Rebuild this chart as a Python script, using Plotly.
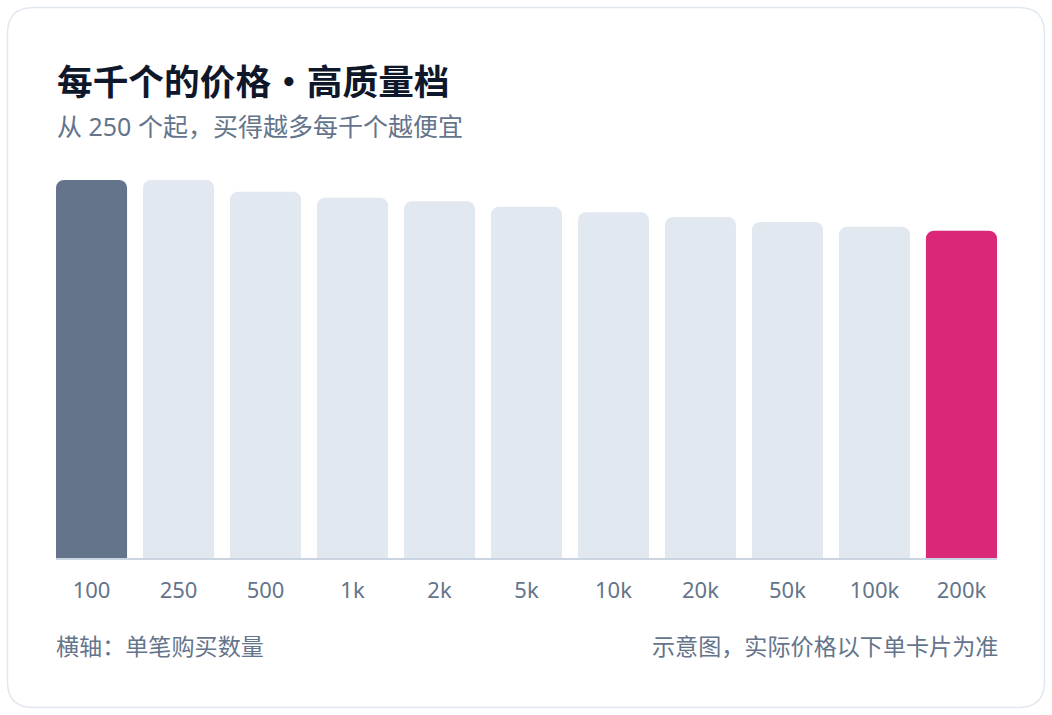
import plotly.graph_objects as go

# Data (relative price per thousand, 100 = price at qty 100)
quantities = ["100", "250", "500", "1k", "2k", "5k", "10k", "20k", "50k", "100k", "200k"]
rel_price = [100, 100, 96.9, 95.3, 94.4, 92.9, 91.5, 90.2, 88.9, 87.6, 86.6]
bar_colors = ["#64748b"] + ["#e2e8f0"] * 9 + ["#db2777"]

title_text = "每千个的价格・高质量档"
subtitle_text = "从 250 个起，买得越多每千个越便宜"
footer_left = "横轴：单笔购买数量"
footer_right = "示意图，实际价格以下单卡片为准"

W, H = 1052, 715
FONT = "Noto Sans, Noto Sans CJK SC, sans-serif"

def px_x(x):
    return x / W

def px_y(y):
    return 1 - y / H

fig = go.Figure(
    go.Bar(
        x=quantities,
        y=rel_price,
        marker=dict(color=bar_colors, line=dict(width=0), cornerradius=8),
        hoverinfo="skip",
    )
)

# card outline (rounded rectangle) in paper coords
x0, x1, y0, y1, r = 7.5, 1044.5, 7.5, 707.5, 26
def P(x, y):
    return f"{px_x(x):.5f},{px_y(y):.5f}"
card_path = (
    f"M {P(x0 + r, y0)} L {P(x1 - r, y0)} Q {P(x1, y0)} {P(x1, y0 + r)} "
    f"L {P(x1, y1 - r)} Q {P(x1, y1)} {P(x1 - r, y1)} "
    f"L {P(x0 + r, y1)} Q {P(x0, y1)} {P(x0, y1 - r)} "
    f"L {P(x0, y0 + r)} Q {P(x0, y0)} {P(x0 + r, y0)} Z"
)

g = 0.183
fig.update_layout(
    width=W,
    height=H,
    margin=dict(l=0, r=0, t=0, b=0),
    paper_bgcolor="white",
    plot_bgcolor="rgba(0,0,0,0)",
    bargap=g,
    showlegend=False,
    font=dict(family=FONT, color="#64748b"),
    xaxis=dict(
        domain=[56 / W, 997 / W],
        range=[-0.5 + g / 2, len(quantities) - 0.5 - g / 2],
        showgrid=False,
        zeroline=False,
        showline=True,
        linecolor="#cbd5e1",
        linewidth=2,
        ticks="outside",
        ticklen=0,
        ticklabelstandoff=12,
        tickfont=dict(size=22, color="#64748b", family=FONT),
        fixedrange=True,
    ),
    yaxis=dict(
        domain=[1 - 558 / H, 1 - 180 / H],
        range=[0, 100],
        visible=False,
        fixedrange=True,
    ),
    shapes=[
        dict(
            type="path",
            xref="paper",
            yref="paper",
            path=card_path,
            line=dict(color="#e2e8f0", width=1.5),
            fillcolor="rgba(0,0,0,0)",
            layer="below",
        )
    ],
    annotations=[
        dict(
            text=title_text, x=px_x(54.5), y=px_y(81), xref="paper", yref="paper",
            xanchor="left", yanchor="middle", showarrow=False,
            font=dict(size=35.7, color="#0f172a", family=FONT, weight=700),
        ),
        dict(
            text=subtitle_text, x=px_x(54.5), y=px_y(125.5), xref="paper", yref="paper",
            xanchor="left", yanchor="middle", showarrow=False,
            font=dict(size=25, color="#64748b", family=FONT),
        ),
        dict(
            text=footer_left, x=px_x(54), y=px_y(646), xref="paper", yref="paper",
            xanchor="left", yanchor="middle", showarrow=False,
            font=dict(size=23.1, color="#64748b", family=FONT),
        ),
        dict(
            text=footer_right, x=px_x(1000), y=px_y(646), xref="paper", yref="paper",
            xanchor="right", yanchor="middle", showarrow=False,
            font=dict(size=23.1, color="#64748b", family=FONT),
        ),
    ],
)

fig.write_html(
    "out.html",
    config={"displayModeBar": False},
    post_script="document.body.style.margin='0';",
)
